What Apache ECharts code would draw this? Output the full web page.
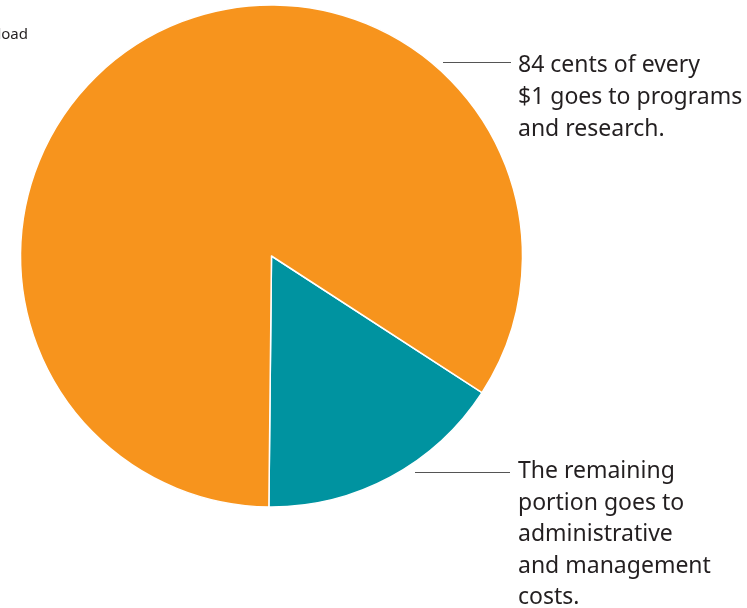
<!DOCTYPE html>
<html>
<head>
<meta charset="utf-8">
<script src="https://cdn.jsdelivr.net/npm/echarts@6/dist/echarts.min.js"></script>
<style>html,body{margin:0;padding:0;background:#fff}#c{width:747px;height:608px}</style>
</head>
<body>
<div id="c"></div>
<script>
const categories = ['Administrative and management', 'Programs and research'];
const values = [16, 84];
const colors = ['#0093A0', '#F7941D'];
const labelProgram = ['84 cents of every', '$1 goes to programs', 'and research.'];
const labelAdmin = ['The remaining', 'portion goes to', 'administrative', 'and management', 'costs.'];
const cornerText = 'Download';

const chart = echarts.init(document.getElementById('c'));
const font = '"Noto Sans", sans-serif';
chart.setOption({
  animation: false,
  series: [{
    type: 'pie',
    center: [271.5, 256],
    radius: 251,
    startAngle: -33,
    clockwise: true,
    label: { show: false },
    labelLine: { show: false },
    silent: true,
    itemStyle: { borderColor: '#fff', borderWidth: 1.5 },
    data: categories.map((n, i) => ({ name: n, value: values[i], itemStyle: { color: colors[i] } }))
  }],
  graphic: [
    { type: 'line', shape: { x1: 443, y1: 62.5, x2: 511, y2: 62.5 }, style: { stroke: '#555', lineWidth: 1.2 } },
    { type: 'line', shape: { x1: 415, y1: 472.5, x2: 510, y2: 472.5 }, style: { stroke: '#555', lineWidth: 1.2 } },
    { type: 'text', left: 518, top: 49, style: { text: labelProgram.join('\n'), font: '23px ' + font, fill: '#231f20', lineHeight: 32 } },
    { type: 'text', left: 518, top: 456, style: { text: labelAdmin.join('\n'), font: '23px ' + font, fill: '#231f20', lineHeight: 31.5 } },
    { type: 'text', x: 28, y: 35, style: { text: cornerText, font: '15px ' + font, fill: '#231f20', align: 'right', verticalAlign: 'middle' } }
  ]
});
</script>
</body>
</html>
